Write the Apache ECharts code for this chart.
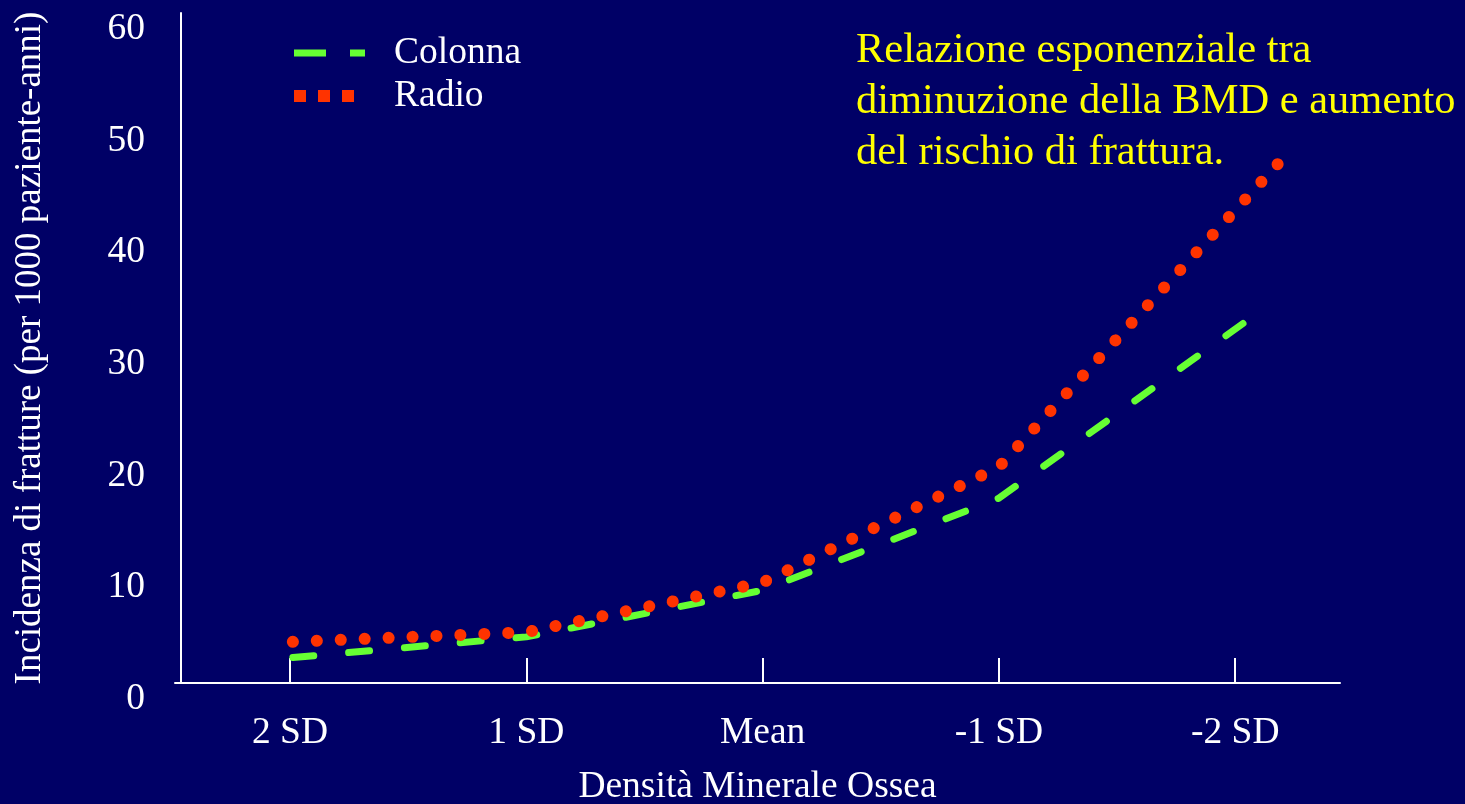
<!DOCTYPE html>
<html>
<head>
<meta charset="utf-8">
<title>Incidenza di fratture</title>
<script src="https://cdn.jsdelivr.net/npm/echarts@6/dist/echarts.min.js"></script>
<style>
  html, body { margin: 0; padding: 0; background: #000066; }
  #chart { width: 1465px; height: 804px; }
</style>
</head>
<body>
<div id="chart"></div>
<script>
// categorie asse x (posizioni 0..4)
var sdLabels = ['2 SD', '1 SD', 'Mean', '-1 SD', '-2 SD'];
var sdPos = [0, 1, 2, 3, 4];

// Colonna (tratteggio verde)
var colonnaX = [0.012, 1, 2, 3, 4.06];
var colonnaY = [2.28, 4.13, 8.3, 16.55, 32.6];

// Radio (punteggiato rosso)
var radioX = [0.012, 1, 2, 3, 4.19];
var radioY = [3.69, 4.55, 9.0, 19.35, 46.7];

var yTicks = [0, 60, 10]; // min, max, step

var nota = 'Relazione esponenziale tra\ndiminuzione della BMD e aumento\ndel rischio di frattura.';

var serif = '"Liberation Serif", "DejaVu Serif", serif';

function zip(xs, ys) {
    var out = [];
    for (var i = 0; i < xs.length; i++) out.push([xs[i], ys[i]]);
    return out;
}

var myChart = echarts.init(document.getElementById('chart'));

var option = {
    backgroundColor: '#000066',
    animation: false,
    textStyle: { fontFamily: serif },
    grid: { left: 175, right: 125, top: 13, bottom: 121, containLabel: false, outerBoundsMode: 'none' },
    legend: {
        left: 288,
        top: 34,
        padding: 0,
        orient: 'vertical',
        itemWidth: 71,
        itemHeight: 14,
        itemGap: 5,
        textStyle: { color: '#fff', fontSize: 37.5, fontFamily: serif, padding: [0, 0, 0, 24] },
        data: [
            { name: 'Colonna', itemStyle: { opacity: 0 }, lineStyle: { type: [32, 24], width: 7, cap: 'butt' } },
            { name: 'Radio', itemStyle: { opacity: 0 }, lineStyle: { type: [12, 12], width: 12, cap: 'butt' } }
        ]
    },
    xAxis: {
        type: 'value',
        min: -0.4867,
        max: 4.4435,
        name: 'Densità Minerale Ossea',
        nameLocation: 'middle',
        nameGap: 85,
        nameTextStyle: { color: '#fff', fontSize: 37.5, fontFamily: serif },
        splitLine: { show: false },
        axisLine: { show: true, onZero: false, lineStyle: { color: '#fff', width: 2 } },
        axisTick: { show: true, inside: true, length: 25, customValues: sdPos, lineStyle: { color: '#fff', width: 2 } },
        axisLabel: {
            customValues: sdPos,
            color: '#fff', fontSize: 37.5, fontFamily: serif, margin: 31,
            formatter: function (v) { return sdLabels[Math.round(v)]; }
        }
    },
    yAxis: {
        type: 'value',
        min: yTicks[0],
        max: yTicks[1],
        interval: yTicks[2],
        offset: -6,
        name: 'Incidenza di fratture (per 1000 paziente-anni)',
        nameLocation: 'middle',
        nameGap: 132,
        nameTextStyle: { color: '#fff', fontSize: 37, fontFamily: serif },
        splitLine: { show: false },
        axisLine: { show: true, onZero: false, lineStyle: { color: '#fff', width: 2 } },
        axisTick: { show: false },
        axisLabel: { color: '#fff', fontSize: 37.5, fontFamily: serif, margin: 36, verticalAlign: 'top', lineHeight: 32 }
    },
    graphic: [{
        type: 'text',
        left: 856,
        top: 25,
        silent: true,
        style: { text: nota, fill: '#ffff00', font: '42.5px ' + serif, lineHeight: 51 }
    }],
    series: [
        {
            name: 'Colonna',
            type: 'line',
            symbol: 'none',
            color: '#66ff33',
            lineStyle: { color: '#66ff33', width: 7, type: [21, 35], cap: 'round' },
            data: zip(colonnaX, colonnaY)
        },
        {
            name: 'Radio',
            type: 'line',
            symbol: 'none',
            color: '#ff3300',
            lineStyle: { color: '#ff3300', width: 12, type: [0.1, 23.85], cap: 'round' },
            data: zip(radioX, radioY)
        }
    ]
};

myChart.setOption(option);
</script>
</body>
</html>
